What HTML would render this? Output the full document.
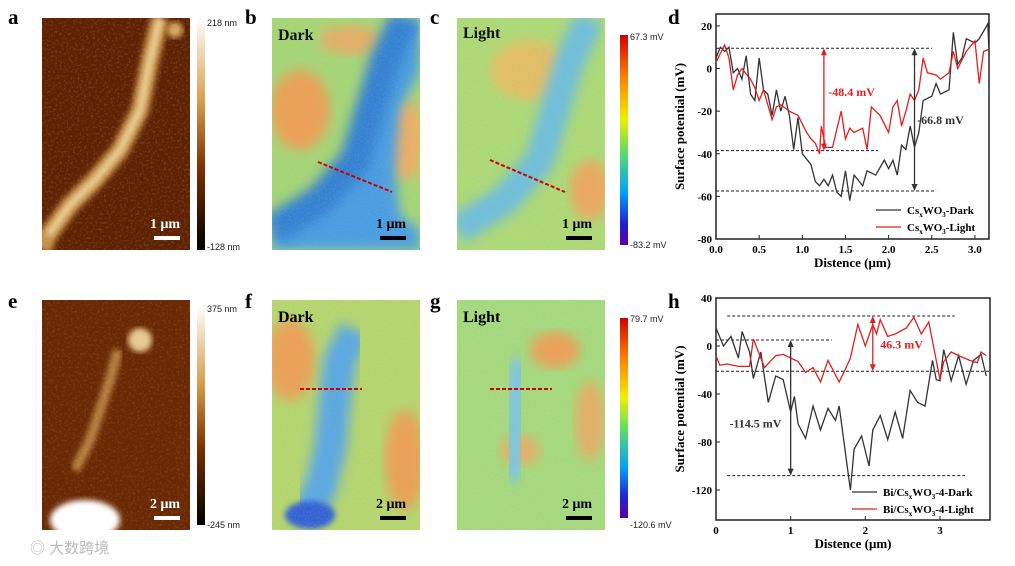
<!DOCTYPE html>
<html><head><meta charset="utf-8"><style>
body{margin:0;background:#fff;width:1015px;height:566px;overflow:hidden}
svg{display:block;font-family:"Liberation Serif",serif}
</style></head><body>
<svg id="fig" width="1015" height="566" viewBox="0 0 1015 566">
<defs>
<linearGradient id="cbAfm" x1="0" y1="0" x2="0" y2="1"><stop offset="0" stop-color="#fff"/><stop offset="0.35" stop-color="#d9a050"/><stop offset="0.65" stop-color="#7a3000"/><stop offset="1" stop-color="#000"/></linearGradient>
<linearGradient id="cbJet" x1="0" y1="0" x2="0" y2="1"><stop offset="0" stop-color="#d00000"/><stop offset="0.2" stop-color="#ff8000"/><stop offset="0.4" stop-color="#f0f000"/><stop offset="0.55" stop-color="#60e060"/><stop offset="0.75" stop-color="#00a0ff"/><stop offset="0.9" stop-color="#2020d0"/><stop offset="1" stop-color="#6000a0"/></linearGradient>
<filter id="blur"><feGaussianBlur stdDeviation="6"/></filter>
<filter id="blur2"><feGaussianBlur stdDeviation="3"/></filter>
<filter id="noise" x="0" y="0" width="100%" height="100%"><feTurbulence type="fractalNoise" baseFrequency="0.6" numOctaves="2" seed="3"/><feColorMatrix type="matrix" values="0 0 0 0 0.3  0 0 0 0 0.4  0 0 0 0 0.9  0 0 0 1.6 -0.6"/></filter>
<filter id="noiseW" x="0" y="0" width="100%" height="100%"><feTurbulence type="fractalNoise" baseFrequency="0.45" numOctaves="2" seed="7"/><feColorMatrix type="matrix" values="0 0 0 0 1  0 0 0 0 0.9  0 0 0 0 0.7  0 0 0 1.8 -0.9"/></filter>
<clipPath id="cA"><rect x="42" y="18" width="148" height="232"/></clipPath>
<clipPath id="cB"><rect x="272" y="18" width="148" height="232"/></clipPath>
<clipPath id="cC"><rect x="457" y="18" width="148" height="232"/></clipPath>
<clipPath id="cE"><rect x="42" y="300" width="148" height="230"/></clipPath>
<clipPath id="cF"><rect x="272" y="300" width="148" height="230"/></clipPath>
<clipPath id="cG"><rect x="457" y="300" width="148" height="230"/></clipPath>
</defs>

<g font-weight="bold" font-size="21">
<text x="8" y="24">a</text><text x="245" y="24">b</text><text x="430" y="24">c</text><text x="668" y="24">d</text>
<text x="8" y="308">e</text><text x="245" y="308">f</text><text x="430" y="308">g</text><text x="668" y="308">h</text>
</g>

<g clip-path="url(#cA)">
<rect x="42" y="18" width="148" height="232" fill="#5e2202"/>
<path d="M160 18 L150 60 L140 110 L120 150 L95 180 L70 205 L48 235 L42 250" stroke="#c89048" stroke-width="18" fill="none" filter="url(#blur2)"/>
<path d="M160 18 L150 60 L140 110 L120 150 L95 180 L70 205 L48 235" stroke="#f0d8a0" stroke-width="6" fill="none" filter="url(#blur2)"/>
<circle cx="175" cy="30" r="8" fill="#d8a860" filter="url(#blur2)"/>
<rect x="42" y="18" width="148" height="232" filter="url(#noiseW)" opacity="0.25"/>
</g>
<rect x="197" y="18" width="8" height="232" fill="url(#cbAfm)"/>
<g font-size="9" font-family="Liberation Sans,sans-serif" fill="#222"><text x="207" y="26">218 nm</text><text x="207" y="250">-128 nm</text></g>
<rect x="154" y="236" width="26" height="4" fill="#fff"/>
<text x="150" y="228" fill="#fff" font-weight="bold" font-size="14">1 μm</text>

<g clip-path="url(#cB)">
<rect x="272" y="18" width="148" height="232" fill="#a8d870"/>
<ellipse cx="300" cy="110" rx="30" ry="40" fill="#f0a050" filter="url(#blur)"/>
<ellipse cx="350" cy="40" rx="30" ry="15" fill="#e8b060" filter="url(#blur)"/>
<ellipse cx="405" cy="140" rx="20" ry="40" fill="#f0b060" filter="url(#blur)"/>
<path d="M405 18 L385 60 L370 110 L355 160 L320 200 L272 230 L272 250 L420 250 L420 230 L400 215 L395 170 L400 110 L420 70 L420 18 Z" fill="#4a9ee0" filter="url(#blur)"/>
<path d="M405 18 L385 60 L370 110 L355 160 L320 200 L272 230" stroke="#3080d0" stroke-width="30" fill="none" filter="url(#blur)"/>
<rect x="272" y="18" width="148" height="232" filter="url(#noise)" opacity="0.3"/>
</g>
<line x1="318" y1="162" x2="392" y2="192" stroke="#c00" stroke-width="2" stroke-dasharray="4,2"/>
<text x="278" y="40" font-weight="bold" font-size="16" fill="#111">Dark</text>
<rect x="380" y="236" width="26" height="4" fill="#000"/><text x="376" y="228" font-weight="bold" font-size="14">1 μm</text>

<g clip-path="url(#cC)">
<rect x="457" y="18" width="148" height="232" fill="#b0dc70"/>
<ellipse cx="530" cy="70" rx="40" ry="30" fill="#e8c060" filter="url(#blur)"/>
<ellipse cx="590" cy="190" rx="20" ry="30" fill="#f0a858" filter="url(#blur)"/>
<path d="M590 18 L570 60 L555 110 L540 160 L505 200 L457 230" stroke="#70c0d8" stroke-width="30" fill="none" filter="url(#blur)"/>
<rect x="457" y="18" width="148" height="232" filter="url(#noise)" opacity="0.3"/>
</g>
<line x1="490" y1="160" x2="565" y2="192" stroke="#c00" stroke-width="2" stroke-dasharray="4,2"/>
<text x="463" y="38" font-weight="bold" font-size="16" fill="#111">Light</text>
<rect x="566" y="236" width="26" height="4" fill="#000"/><text x="562" y="228" font-weight="bold" font-size="14">1 μm</text>
<rect x="620" y="35" width="8" height="210" fill="url(#cbJet)"/>
<g font-size="9" font-family="Liberation Sans,sans-serif" fill="#222"><text x="630" y="40">67.3 mV</text><text x="630" y="248">-83.2 mV</text></g>

<g clip-path="url(#cE)">
<rect x="42" y="300" width="148" height="230" fill="#6a2803"/>
<circle cx="140" cy="340" r="12" fill="#e8c890" filter="url(#blur2)"/>
<path d="M118 350 L110 380 L100 410 L90 440 L75 470" stroke="#b88040" stroke-width="10" fill="none" filter="url(#blur2)"/>
<ellipse cx="85" cy="520" rx="35" ry="20" fill="#fff" filter="url(#blur2)"/>
<rect x="42" y="300" width="148" height="230" filter="url(#noiseW)" opacity="0.2"/>
</g>
<rect x="197" y="305" width="8" height="220" fill="url(#cbAfm)"/>
<g font-size="9" font-family="Liberation Sans,sans-serif" fill="#222"><text x="207" y="312">375 nm</text><text x="207" y="528">-245 nm</text></g>
<rect x="154" y="516" width="26" height="4" fill="#fff"/><text x="150" y="508" fill="#fff" font-weight="bold" font-size="14">2 μm</text>

<g clip-path="url(#cF)">
<rect x="272" y="300" width="148" height="230" fill="#b8d868"/>
<ellipse cx="290" cy="360" rx="25" ry="40" fill="#f0a050" filter="url(#blur)"/>
<ellipse cx="405" cy="460" rx="20" ry="50" fill="#f0a050" filter="url(#blur)"/>
<path d="M355 330 L340 360 L335 400 L330 450 L320 490 L305 515" stroke="#5aa8e0" stroke-width="32" fill="none" filter="url(#blur)"/>
<ellipse cx="310" cy="515" rx="25" ry="14" fill="#3060d0" filter="url(#blur2)"/>
<rect x="272" y="300" width="148" height="230" filter="url(#noise)" opacity="0.3"/>
</g>
<line x1="300" y1="389" x2="362" y2="389" stroke="#c00" stroke-width="2" stroke-dasharray="4,2"/>
<text x="278" y="322" font-weight="bold" font-size="16">Dark</text>
<rect x="380" y="516" width="26" height="4" fill="#000"/><text x="376" y="508" font-weight="bold" font-size="14">2 μm</text>

<g clip-path="url(#cG)">
<rect x="457" y="300" width="148" height="230" fill="#a8dc78"/>
<ellipse cx="555" cy="350" rx="25" ry="18" fill="#f0a050" filter="url(#blur)"/>
<ellipse cx="520" cy="450" rx="20" ry="15" fill="#e8b060" filter="url(#blur)"/>
<ellipse cx="590" cy="420" rx="15" ry="40" fill="#e8b060" filter="url(#blur)"/>
<path d="M520 360 L515 420 L510 480" stroke="#80c8d8" stroke-width="25" fill="none" filter="url(#blur)"/>
<rect x="457" y="300" width="148" height="230" filter="url(#noise)" opacity="0.3"/>
</g>
<line x1="490" y1="389" x2="552" y2="389" stroke="#c00" stroke-width="2" stroke-dasharray="4,2"/>
<text x="463" y="322" font-weight="bold" font-size="16">Light</text>
<rect x="566" y="516" width="26" height="4" fill="#000"/><text x="562" y="508" font-weight="bold" font-size="14">2 μm</text>
<rect x="620" y="318" width="8" height="200" fill="url(#cbJet)"/>
<g font-size="9" font-family="Liberation Sans,sans-serif" fill="#222"><text x="630" y="322">79.7 mV</text><text x="630" y="528">-120.6 mV</text></g>

<g id="chartD"></g>
<g id="chartH"></g>

<text x="30" y="553" font-family="Liberation Sans,'Noto Sans CJK SC',sans-serif" font-size="15" fill="#bbb">◎ 大数跨境</text>
</svg>
<script>
const dX=[0,0.05,0.1,0.15,0.2,0.25,0.3,0.35,0.4,0.45,0.5,0.55,0.6,0.65,0.7,0.75,0.8,0.85,0.9,0.95,1.0,1.1,1.15,1.2,1.25,1.3,1.35,1.4,1.45,1.5,1.55,1.6,1.7,1.75,1.85,1.95,2.0,2.05,2.1,2.15,2.2,2.25,2.3,2.35,2.4,2.5,2.55,2.6,2.7,2.75,2.8,2.85,2.9,3.0,3.05,3.15,3.16];
const dDark=[5,10,8,10,-2,0,-5,6,-12,-15,5,-10,-12,-22,-10,-20,-13,-22,-38,-23,-40,-45,-53,-55,-52,-55,-50,-58,-60,-48,-62,-50,-55,-48,-50,-43,-47,-43,-50,-36,-38,-27,-37,-30,-15,-13,-7,-12,-10,17,2,5,14,12,14,21,10];
const dLX=[0,0.1,0.15,0.2,0.25,0.3,0.4,0.45,0.5,0.55,0.65,0.7,0.75,0.85,0.95,1.05,1.1,1.15,1.2,1.22,1.27,1.35,1.45,1.5,1.55,1.6,1.7,1.75,1.8,1.9,2.0,2.05,2.1,2.15,2.2,2.25,2.3,2.35,2.4,2.45,2.55,2.6,2.7,2.75,2.8,2.9,3.0,3.05,3.1,3.16];
const dLight=[3,11,5,-10,-3,0,-5,-9,-15,-10,-24,-18,-17,-20,-22,-30,-33,-35,-40,-27,-37,-37,-20,-33,-28,-30,-28,-38,-18,-22,-30,-18,-15,-27,-20,-12,-15,-10,5,-2,-3,-5,-2,8,0,8,13,-7,8,9];
const dXTicks=[0,0.5,1.0,1.5,2.0,2.5,3.0];
const dYTicks=[20,0,-20,-40,-60,-80];
const hX=[0,0.1,0.2,0.3,0.35,0.45,0.5,0.6,0.7,0.8,0.9,1.0,1.05,1.1,1.2,1.3,1.4,1.5,1.6,1.65,1.8,1.85,1.95,2.05,2.1,2.2,2.3,2.4,2.5,2.6,2.7,2.8,2.9,2.95,3.0,3.05,3.15,3.25,3.35,3.45,3.55,3.62];
const hDark=[15,0,8,-10,12,-5,-27,-5,-47,-25,-28,-55,-42,-65,-77,-50,-70,-52,-62,-50,-120,-86,-75,-100,-70,-58,-78,-55,-77,-37,-47,-50,-12,-28,-29,-3,-29,-8,-32,-12,-7,-25];
const hLX=[0,0.05,0.15,0.3,0.45,0.5,0.65,0.8,0.9,1.0,1.1,1.2,1.3,1.4,1.5,1.65,1.75,1.8,1.9,2.0,2.1,2.15,2.2,2.3,2.4,2.55,2.65,2.75,2.85,3.0,3.05,3.15,3.25,3.4,3.5,3.55,3.62];
const hLight=[-8,-16,-15,-17,-17,6,-18,-8,-7,-10,-13,-22,-18,-30,-12,-30,-17,-10,18,0,18,10,22,8,10,15,24,10,20,-28,-13,-5,-8,-12,-14,-5,-8];
const hXTicks=[0,1,2,3];
const hYTicks=[40,0,-40,-80,-120];

const NS='http://www.w3.org/2000/svg';
function el(p,t,a,txt){const e=document.createElementNS(NS,t);for(const k in a)e.setAttribute(k,a[k]);if(txt!==undefined)e.textContent=txt;p.appendChild(e);return e;}

function chart(g,cfg){
  const sx=v=>cfg.x0+(v-cfg.xmin)/(cfg.xmax-cfg.xmin)*(cfg.x1-cfg.x0);
  const sy=v=>cfg.y1-(v-cfg.ymin)/(cfg.ymax-cfg.ymin)*(cfg.y1-cfg.y0);
  const fr=el(g,'rect',{x:cfg.x0,y:cfg.y0,width:cfg.x1-cfg.x0,height:cfg.y1-cfg.y0,fill:'none',stroke:'#222','stroke-width':1.5});
  
  
  cfg.xt.forEach(v=>{const x=sx(v);el(g,'line',{x1:x,x2:x,y1:cfg.y1,y2:cfg.y1-4,stroke:'#222'});
    const t=el(g,'text',{x:x,y:cfg.y1+14,'text-anchor':'middle','font-size':11,'font-weight':'bold'},cfg.fmt?v.toFixed(1):String(v));
    
    });
  cfg.yt.forEach(v=>{const y=sy(v);el(g,'line',{x1:cfg.x0,x2:cfg.x0+4,y1:y,y2:y,stroke:'#222'});
    const t=el(g,'text',{x:cfg.x0-4,y:y+4,'text-anchor':'end','font-size':11,'font-weight':'bold'},String(v));
    
    });
  const xl=el(g,'text',{x:(cfg.x0+cfg.x1)/2,y:cfg.y1+28,'text-anchor':'middle','font-size':13,'font-weight':'bold'},'Distence (μm)');
  
  
  const yl=el(g,'text',{transform:`translate(${cfg.x0-32},${(cfg.y0+cfg.y1)/2}) rotate(-90)`,'text-anchor':'middle','font-size':13,'font-weight':'bold'},'Surface potential (mV)');
  
  
  cfg.dash.forEach(d=>{el(g,'line',{x1:sx(d[1]),x2:sx(d[2]),y1:sy(d[0]),y2:sy(d[0]),stroke:'#222','stroke-dasharray':'3,2','stroke-width':1});});
  const line=(xs,ys,c,name)=>{const p=el(g,'polyline',{points:xs.map((x,i)=>sx(x)+','+sy(ys[i])).join(' '),fill:'none',stroke:c,'stroke-width':1.3});
    
    };
  line(cfg.dx,cfg.dy,'#333','series-dark');
  line(cfg.lx,cfg.ly,'#e02020','series-light');
  cfg.arrows.forEach(a=>{const x=sx(a.x),ya=sy(a.a),yb=sy(a.b);
    el(g,'line',{x1:x,x2:x,y1:ya+5,y2:yb-5,stroke:a.c,'stroke-width':1.3});
    el(g,'path',{d:`M${x-3} ${ya+7} L${x} ${ya} L${x+3} ${ya+7}Z`,fill:a.c});
    el(g,'path',{d:`M${x-3} ${yb-7} L${x} ${yb} L${x+3} ${yb-7}Z`,fill:a.c});
    const t=el(g,'text',{x:sx(a.tx),y:sy(a.ty),'font-size':12,'font-weight':'bold',fill:a.c},a.t);
    
    });
  cfg.legend.forEach((l,i)=>{const y=cfg.ly0+i*17;el(g,'line',{x1:cfg.lx0,x2:cfg.lx0+25,y1:y,y2:y,stroke:l[1],'stroke-width':1.3});
    const t=el(g,'text',{x:cfg.lx0+31,y:y+4,'font-size':11,'font-weight':'bold'});
    t.innerHTML=l[0];
    
    });
}
chart(document.getElementById('chartD'),{x0:716,x1:989,y0:14,y1:239,xmin:0,xmax:3.163,ymin:-80,ymax:25.6,xt:dXTicks,yt:dYTicks,fmt:true,
  dx:dX,dy:dDark,lx:dLX,ly:dLight,
  dash:[[9.5,0,2.5],[-38.5,0,1.88],[-57.5,0,2.55]],
  arrows:[{x:1.25,a:9.5,b:-38.5,c:'#e02020',t:'-48.4 mV',tx:1.3,ty:-13},{x:2.3,a:9.5,b:-57.5,c:'#333',t:'-66.8 mV',tx:2.33,ty:-26}],
  legend:[['Cs<tspan dy="3" font-size="7">x</tspan><tspan dy="-3">WO</tspan><tspan dy="3" font-size="7">3</tspan><tspan dy="-3">-Dark</tspan>','#333'],['Cs<tspan dy="3" font-size="7">x</tspan><tspan dy="-3">WO</tspan><tspan dy="3" font-size="7">3</tspan><tspan dy="-3">-Light</tspan>','#e02020']],
  lx0:876,ly0:210});
chart(document.getElementById('chartH'),{x0:716,x1:990,y0:298,y1:520,xmin:0,xmax:3.67,ymin:-145,ymax:40,xt:hXTicks,yt:hYTicks,fmt:false,
  dx:hX,dy:hDark,lx:hLX,ly:hLight,
  dash:[[25,0.15,3.2],[5,0,1.55],[-21,0,3.67],[-108,0.15,3.35]],
  arrows:[{x:2.1,a:25,b:-21,c:'#e02020',t:'46.3 mV',tx:2.2,ty:-2},{x:1.0,a:5,b:-108,c:'#333',t:'-114.5 mV',tx:0.18,ty:-68}],
  legend:[['Bi/Cs<tspan dy="3" font-size="7">x</tspan><tspan dy="-3">WO</tspan><tspan dy="3" font-size="7">3</tspan><tspan dy="-3">-4-Dark</tspan>','#333'],['Bi/Cs<tspan dy="3" font-size="7">x</tspan><tspan dy="-3">WO</tspan><tspan dy="3" font-size="7">3</tspan><tspan dy="-3">-4-Light</tspan>','#e02020']],
  lx0:852,ly0:492});
</script>
</body></html>
